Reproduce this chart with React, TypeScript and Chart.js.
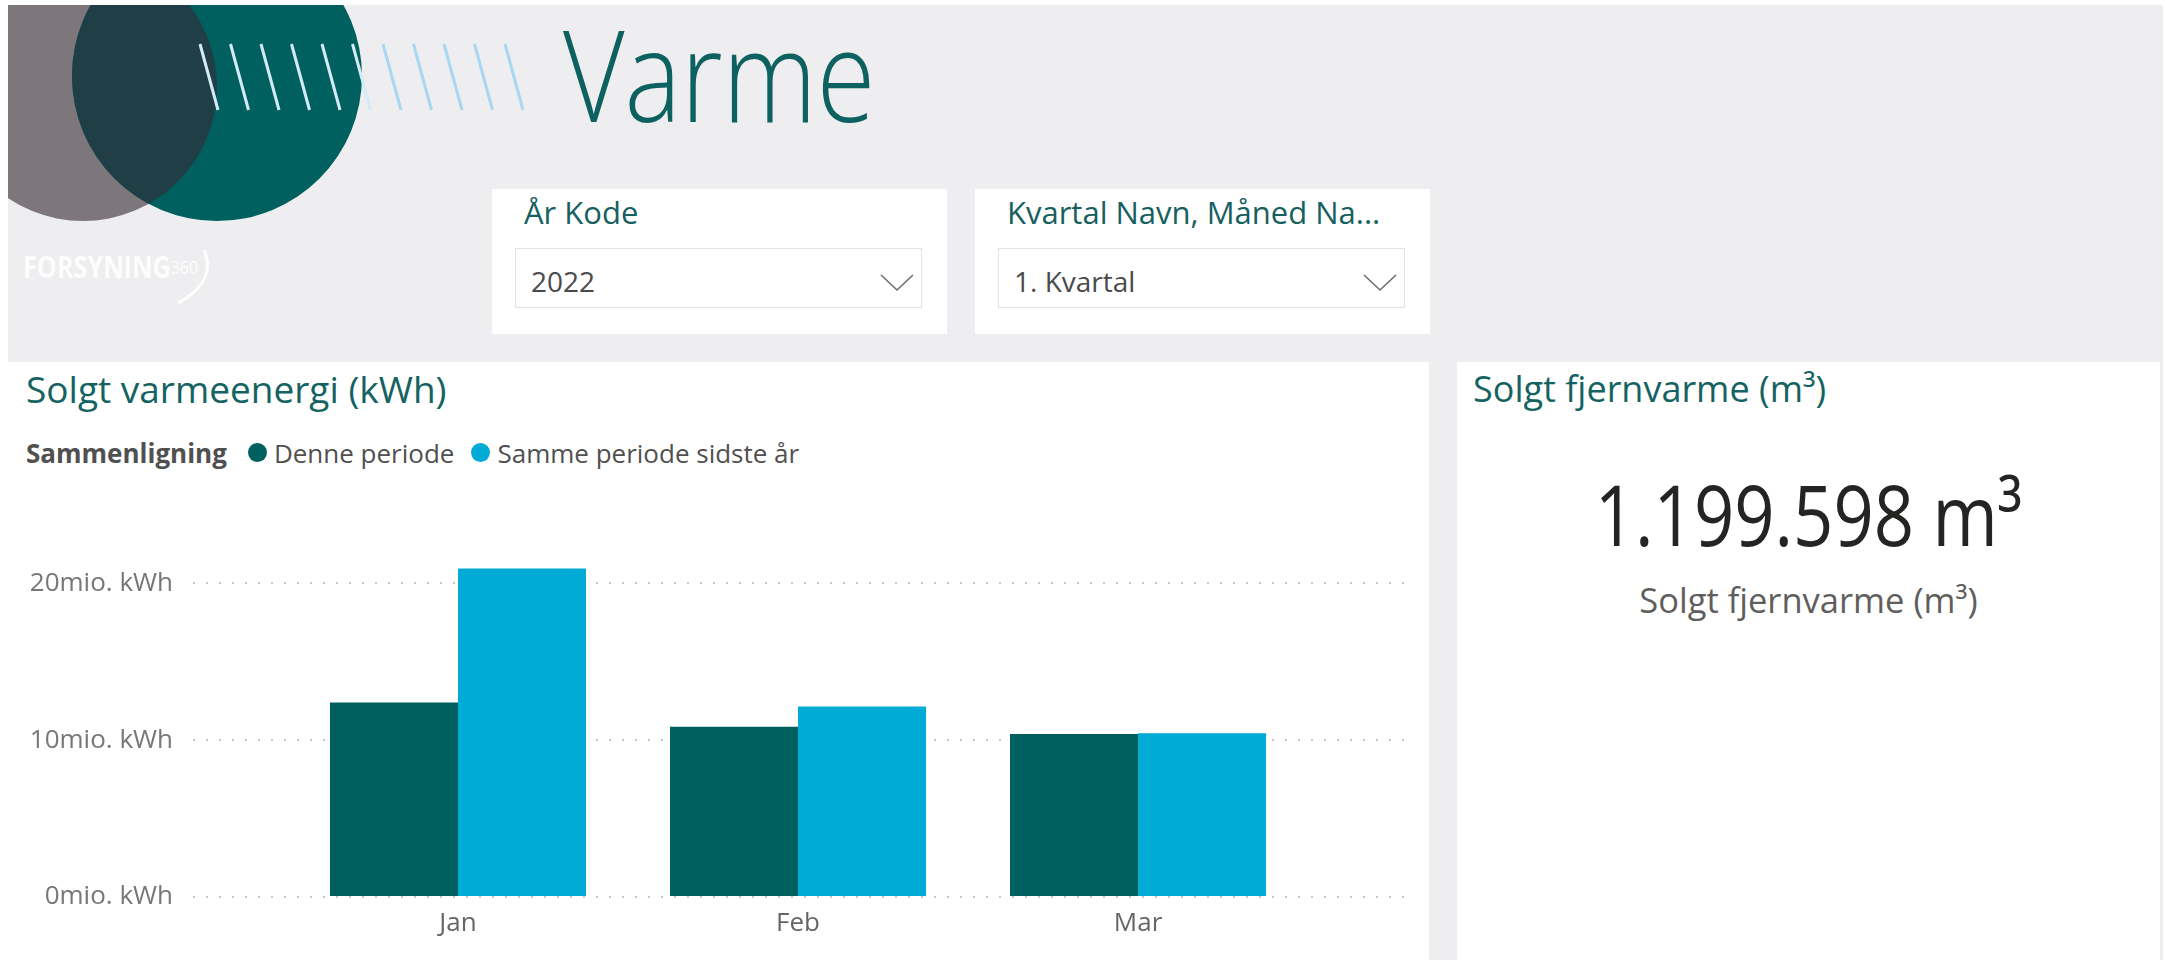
import React, { useEffect, useRef } from "react";
import { Chart, registerables } from "chart.js";

Chart.register(...registerables);

// ---- data ----
const months = ["Jan", "Feb", "Mar"];
const dennePeriode = [12400000, 10850000, 10400000];
const sammePeriodeSidsteAar = [20950000, 12150000, 10450000];
const seriesNames = ["Denne periode", "Samme periode sidste år"];
const seriesColors = ["#00605F", "#00ABD6"];
const yTicks = [0, 10000000, 20000000];
const yMax = 22000000;
const kpiValue = 1199598;
const yearValue = "2022";
const quarterValue = "1. Kvartal";

const FONT = "'Open Sans', 'Noto Sans', sans-serif";

function formatDa(n: number): string {
  return String(n).replace(/\B(?=(\d{3})+(?!\d))/g, ".");
}

function BarChart() {
  const ref = useRef<HTMLCanvasElement | null>(null);
  useEffect(() => {
    if (!ref.current) return;
    const xMin = -0.7794;
    const xMax = 2.794;
    const chart = new Chart(ref.current, {
      type: "bar",
      data: {
        datasets: [
          {
            label: seriesNames[0],
            data: dennePeriode.map((v, i) => ({ x: i, y: v })),
            backgroundColor: seriesColors[0],
            categoryPercentage: 0.753,
            barPercentage: 1,
            borderWidth: 0,
          },
          {
            label: seriesNames[1],
            data: sammePeriodeSidsteAar.map((v, i) => ({ x: i, y: v })),
            backgroundColor: seriesColors[1],
            categoryPercentage: 0.753,
            barPercentage: 1,
            borderWidth: 0,
          },
        ],
      },
      options: {
        animation: false,
        responsive: false,
        maintainAspectRatio: false,
        layout: { padding: { top: 12, right: 21, left: 0, bottom: 0 } },
        plugins: { legend: { display: false }, tooltip: { enabled: false } },
        scales: {
          x: {
            type: "linear",
            min: xMin,
            max: xMax,
            offset: false,
            grid: { display: false, drawTicks: false },
            border: { display: false },
            ticks: {
              stepSize: 1,
              padding: 11,
              color: "#666666",
              font: { family: FONT, size: 26 },
              callback: (v: any) => months[v as number] ?? "",
            },
            afterBuildTicks: (s: any) => {
              s.ticks = s.ticks.filter(
                (t: any) => Number.isInteger(t.value) && t.value >= 0 && t.value < months.length
              );
            },
            afterFit: (s: any) => {
              s.height = 63;
              s.paddingLeft = 0;
              s.paddingRight = 0;
            },
          },
          y: {
            min: 0,
            max: yMax,
            grid: { color: "#C8C8C8", lineWidth: 2, drawTicks: false },
            border: { display: false, dash: [2, 11] },
            ticks: {
              padding: 20,
              color: "#777777",
              font: { family: FONT, size: 26 },
              callback: (v: any) => `${Number(v) / 1000000}mio. kWh`,
            },
            afterBuildTicks: (s: any) => {
              s.ticks = yTicks.map((v) => ({ value: v }));
            },
            afterFit: (s: any) => {
              s.width = 185;
              s.paddingTop = 0;
              s.paddingBottom = 0;
            },
          },
        },
      },
    });
    return () => chart.destroy();
  }, []);
  return (
    <canvas
      ref={ref}
      width={1421}
      height={420}
      style={{ position: "absolute", left: 8, top: 540, width: 1421, height: 420 }}
    />
  );
}

function Chevron({ x, y }: { x: number; y: number }) {
  return (
    <svg width={36} height={20} style={{ position: "absolute", left: x, top: y }}>
      <polyline points="1,2 17,17 33,2" fill="none" stroke="#6E6E6E" strokeWidth={1.6} />
    </svg>
  );
}

function Slicer({ left, title, value }: { left: number; title: string; value: string }) {
  return (
    <div
      style={{
        position: "absolute",
        left,
        top: 189,
        width: 455,
        height: 145,
        background: "#FFFFFF",
      }}
    >
      <div
        style={{
          position: "absolute",
          left: 32,
          top: 225 - 189 - 0.888 * 31,
          fontSize: 31,
          lineHeight: "31px",
          color: "#17605F",
          whiteSpace: "nowrap",
        }}
      >
        {title}
      </div>
      <div
        style={{
          position: "absolute",
          left: 23,
          top: 59,
          width: 407,
          height: 60,
          border: "1px solid #E3E3E3",
          boxSizing: "border-box",
        }}
      >
        <div
          style={{
            position: "absolute",
            left: 15,
            top: 291 - 248 - 0.888 * 28,
            fontSize: 28,
            lineHeight: "28px",
            color: "#4A4A4A",
            whiteSpace: "nowrap",
          }}
        >
          {value}
        </div>
        <Chevron x={364} y={24} />
      </div>
    </div>
  );
}

export default function App() {
  const stripes = [];
  for (let i = 0; i < 11; i++) {
    const x = 200 + i * 30.5;
    stripes.push(
      <line
        key={i}
        x1={x}
        y1={44}
        x2={x + 18}
        y2={110}
        stroke={i < 6 ? "#D4EBF7" : "#A9D6F0"}
        strokeWidth={3}
      />
    );
  }

  const kpiFs = 84;
  return (
    <div
      style={{
        position: "absolute",
        left: 0,
        top: 0,
        width: 2165,
        height: 960,
        overflow: "hidden",
        background: "#EEEEF0",
        fontFamily: FONT,
      }}
    >
      {/* logo */}
      <svg width={600} height={320} style={{ position: "absolute", left: 0, top: 0 }}>
        <defs>
          <clipPath id="tealClip">
            <circle cx={217} cy={76} r={145} />
          </clipPath>
        </defs>
        <circle cx={83} cy={87} r={134} fill="#7D767B" />
        <circle cx={217} cy={76} r={145} fill="#00605F" />
        <circle cx={83} cy={87} r={134} fill="#1F3E46" clipPath="url(#tealClip)" />
        {stripes}
        <path
          d="M 204 250 Q 214 272 196 290 Q 188 298 178 303"
          fill="none"
          stroke="#FFFFFF"
          strokeWidth={3}
          opacity={0.9}
        />
      </svg>
      <div
        style={{
          position: "absolute",
          left: 23,
          top: 279 - 0.888 * 30,
          fontSize: 30,
          lineHeight: "30px",
          fontWeight: 700,
          color: "#FFFFFF",
          opacity: 0.9,
          whiteSpace: "nowrap",
          transform: "scaleX(0.84)",
          transformOrigin: "left top",
        }}
      >
        FORSYNING
        <span style={{ fontSize: 19, verticalAlign: "top", fontWeight: 400 }}>360</span>
      </div>

      {/* page title */}
      <div
        style={{
          position: "absolute",
          left: 563,
          top: 121.5 - 0.888 * 127,
          fontSize: 127,
          lineHeight: "127px",
          fontWeight: 300,
          color: "#0D6160",
          whiteSpace: "nowrap",
          transform: "scaleX(0.84)",
          transformOrigin: "left top",
        }}
      >
        Varme
      </div>

      {/* slicers */}
      <Slicer left={492} title="År Kode" value={yearValue} />
      <Slicer left={975} title="Kvartal Navn, Måned Na..." value={quarterValue} />

      {/* chart card */}
      <div
        style={{
          position: "absolute",
          left: 8,
          top: 362,
          width: 1421,
          height: 598,
          background: "#FFFFFF",
        }}
      />
      <div
        style={{
          position: "absolute",
          left: 26,
          top: 403 - 0.888 * 37,
          fontSize: 37,
          lineHeight: "37px",
          color: "#146362",
          whiteSpace: "nowrap",
        }}
      >
        Solgt varmeenergi (kWh)
      </div>
      <div
        style={{
          position: "absolute",
          left: 26,
          top: 463 - 0.888 * 26,
          fontSize: 26,
          lineHeight: "26px",
          color: "#505050",
          whiteSpace: "nowrap",
          display: "flex",
          alignItems: "center",
        }}
      >
        <span style={{ fontWeight: 700, marginRight: 21 }}>Sammenligning</span>
        {seriesNames.map((n, i) => (
          <span key={n} style={{ display: "inline-flex", alignItems: "center", marginRight: 17 }}>
            <span
              style={{
                display: "inline-block",
                width: 19,
                height: 19,
                borderRadius: "50%",
                background: seriesColors[i],
                marginRight: 7,
              }}
            />
            {n}
          </span>
        ))}
      </div>
      <BarChart />

      {/* KPI card */}
      <div
        style={{
          position: "absolute",
          left: 1457,
          top: 362,
          width: 703,
          height: 598,
          background: "#FFFFFF",
        }}
      >
        <div
          style={{
            position: "absolute",
            left: 16,
            top: 403 - 362 - 0.888 * 36,
            fontSize: 36,
            lineHeight: "36px",
            color: "#146362",
            whiteSpace: "nowrap",
          }}
        >
          Solgt fjernvarme (m³)
        </div>
        <div
          style={{
            position: "absolute",
            left: 0,
            width: 703,
            top: 547 - 362 - 0.888 * kpiFs,
            fontSize: kpiFs,
            lineHeight: `${kpiFs}px`,
            color: "#252423",
            textAlign: "center",
            whiteSpace: "nowrap",
            transform: "scaleX(0.84)",
            transformOrigin: "center top",
          }}
        >
          {formatDa(kpiValue)} m³
        </div>
        <div
          style={{
            position: "absolute",
            left: 0,
            width: 703,
            top: 614 - 362 - 0.888 * 34.5,
            fontSize: 34.5,
            lineHeight: "34.5px",
            color: "#605E5C",
            textAlign: "center",
            whiteSpace: "nowrap",
          }}
        >
          Solgt fjernvarme (m³)
        </div>
      </div>

      {/* white page edges */}
      <div style={{ position: "absolute", left: 0, top: 0, width: 2165, height: 5, background: "#FFFFFF" }} />
      <div style={{ position: "absolute", left: 0, top: 0, width: 8, height: 960, background: "#FFFFFF" }} />
      <div style={{ position: "absolute", left: 2163, top: 0, width: 2, height: 960, background: "#FFFFFF" }} />
    </div>
  );
}
